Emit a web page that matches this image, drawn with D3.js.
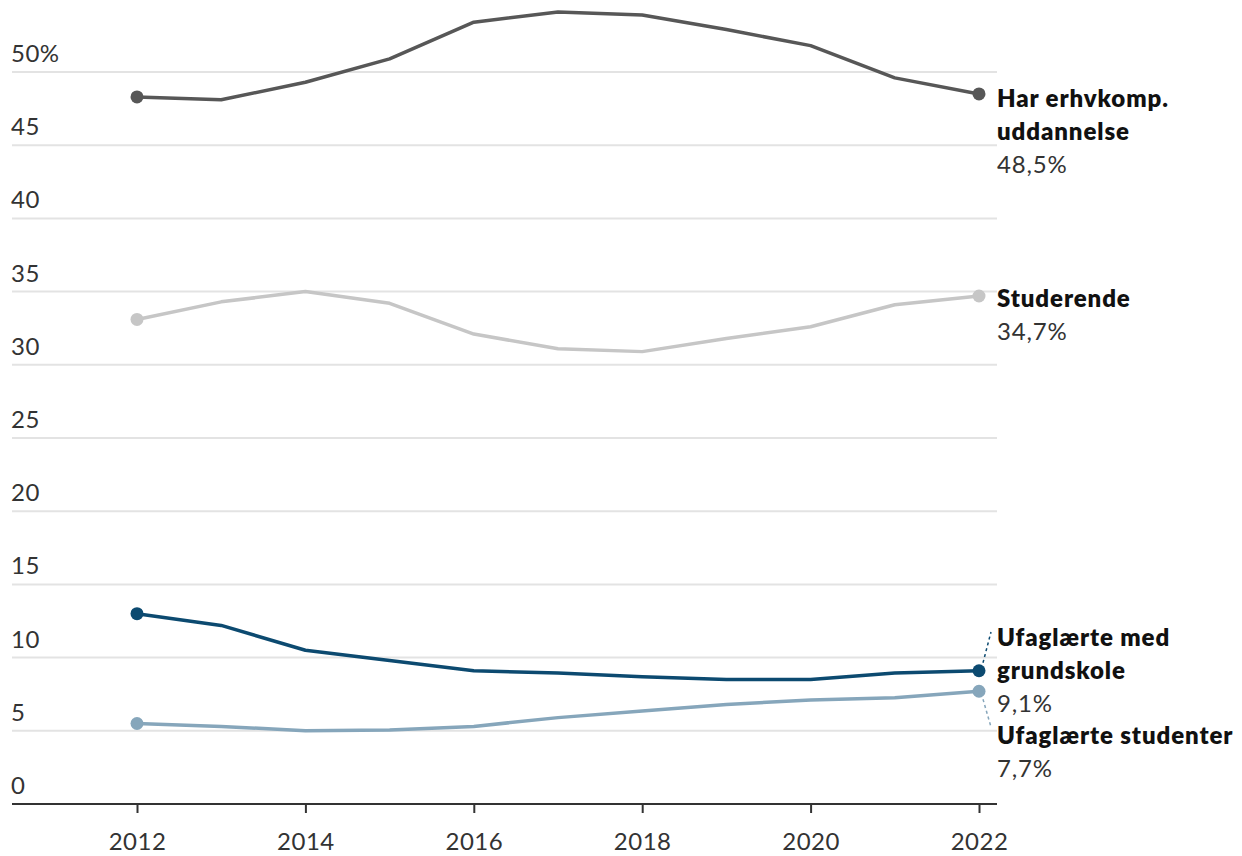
<!DOCTYPE html>
<html lang="da">
<meta charset="utf-8">
<style>
body { margin: 0; background: #fff; font-family: Lato, 'Open Sans', sans-serif; }
.grid line { stroke: #e3e3e3; stroke-width: 2; }
.ylab { font-size: 24px; fill: #333; letter-spacing: 0.5px; }
.xaxis text { font-size: 24px; fill: #333; font-family: Lato, 'Open Sans', sans-serif; letter-spacing: 0.5px; }
.lab { font-size: 24px; font-weight: 800; fill: #111; letter-spacing: 0.9px; }
.val { font-size: 24px; fill: #333; letter-spacing: 0.8px; }
</style>
<body>
<div id="chart"></div>
<script src="https://d3js.org/d3.v7.min.js"></script>
<script>
// years on x
var years = [2012, 2013, 2014, 2015, 2016, 2017, 2018, 2019, 2020, 2021, 2022];

// share of group (%)
var erhv = [48.3, 48.1, 49.3, 50.9, 53.4, 54.1, 53.9, 52.9, 51.8, 49.6, 48.5];
var studerende = [33.1, 34.3, 35.0, 34.2, 32.1, 31.1, 30.9, 31.8, 32.6, 34.1, 34.7];
var grundskole = [13.0, 12.2, 10.5, 9.8, 9.1, 8.95, 8.7, 8.5, 8.5, 8.95, 9.1];
var ufStud = [5.5, 5.3, 5.0, 5.05, 5.3, 5.9, 6.35, 6.8, 7.1, 7.25, 7.7];

var yTicks = [0, 5, 10, 15, 20, 25, 30, 35, 40, 45, 50];
var xTicks = [2012, 2014, 2016, 2018, 2020, 2022];

var series = [
  { vals: erhv, color: "#575757", name: ["Har erhvkomp.", "uddannelse"], value: "48,5%", ly: 107 },
  { vals: studerende, color: "#c6c6c6", name: ["Studerende"], value: "34,7%", ly: 307 },
  { vals: ufStud, color: "#86a6bb", name: ["Ufaglærte studenter"], value: "7,7%", ly: 744, lead: [727] },
  { vals: grundskole, color: "#0c4a70", name: ["Ufaglærte med", "grundskole"], value: "9,1%", ly: 646, lead: [632] }
];

var width = 1242, height = 856;
var x = d3.scaleLinear().domain([2012, 2022]).range([137, 979]);
var y = d3.scaleLinear().domain([0, 50]).range([804, 72]);

var svg = d3.select("#chart").append("svg")
    .attr("width", width)
    .attr("height", height);

// gridlines
svg.append("g").attr("class", "grid")
  .selectAll("line")
  .data(yTicks.filter(function(d) { return d > 0; }))
  .enter().append("line")
    .attr("x1", 12).attr("x2", 997)
    .attr("y1", function(d) { return y(d); })
    .attr("y2", function(d) { return y(d); });

svg.append("g")
  .selectAll("text")
  .data(yTicks)
  .enter().append("text")
    .attr("class", "ylab")
    .attr("x", 11)
    .attr("y", function(d) { return y(d) - 10; })
    .text(function(d) { return d === 50 ? "50%" : d; });

// x axis
var xAxis = svg.append("g")
    .attr("class", "xaxis")
    .attr("transform", "translate(0," + y(0) + ")")
    .call(d3.axisBottom(x).tickValues(xTicks).tickFormat(d3.format("d")).tickSize(9).tickPadding(20));
xAxis.select(".domain").attr("d", "M12,0H997").attr("stroke", "#333").attr("stroke-width", 2);
xAxis.selectAll(".tick line").attr("stroke", "#333").attr("stroke-width", 2);

var line = d3.line()
    .x(function(d, i) { return x(years[i]); })
    .y(function(d) { return y(d); });

series.forEach(function(s) {
  svg.append("path")
      .datum(s.vals)
      .attr("fill", "none")
      .attr("stroke", s.color)
      .attr("stroke-width", 3.5)
      .attr("stroke-linejoin", "round")
      .attr("d", line);

  [0, s.vals.length - 1].forEach(function(i) {
    svg.append("circle")
        .attr("cx", x(years[i]))
        .attr("cy", y(s.vals[i]))
        .attr("r", 6.5)
        .attr("fill", s.color);
  });

  if (s.lead) {
    var lx = x(years[years.length - 1]), ly = y(s.vals[s.vals.length - 1]);
    var up = s.lead[0] < ly;
    svg.append("line")
        .attr("x1", lx + 4).attr("y1", ly + (up ? -8 : 8))
        .attr("x2", lx + 12).attr("y2", s.lead[0])
        .attr("stroke", s.color)
        .attr("stroke-width", 1.5)
        .attr("stroke-dasharray", "3,3");
  }

  var t = svg.append("g");
  s.name.forEach(function(n, k) {
    t.append("text").attr("class", "lab")
      .attr("x", 997).attr("y", s.ly + k * 33).text(n);
  });
  t.append("text").attr("class", "val")
    .attr("x", 997).attr("y", s.ly + s.name.length * 33).text(s.value);
});
</script>
</body>
</html>
